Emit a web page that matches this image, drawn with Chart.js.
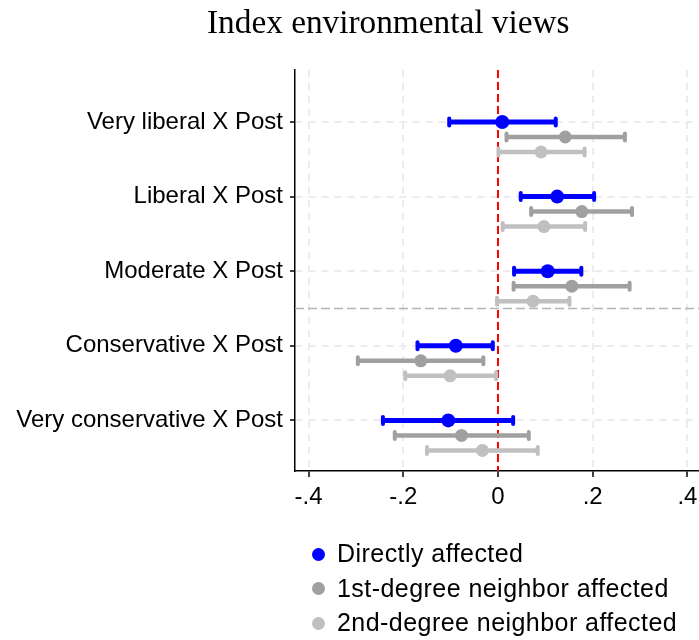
<!DOCTYPE html>
<html><head><meta charset="utf-8">
<script src="https://cdn.jsdelivr.net/npm/chart.js@4.4.0/dist/chart.umd.min.js"></script>
<style>
html,body{margin:0;padding:0;width:699px;height:640px;overflow:hidden;background:#fff;}
#wrap{position:relative;width:699px;height:640px;overflow:hidden;background:#fff;}
canvas{position:absolute;left:0;top:0;}
#title{position:absolute;left:207px;top:5px;font:33.3px/33px "Liberation Serif","Times New Roman",serif;color:#000;white-space:nowrap;}
.leg{position:absolute;left:337px;font:25px/25px "Liberation Sans",Arial,sans-serif;letter-spacing:0.45px;white-space:nowrap;color:#000;}
.dot{position:absolute;left:312px;width:13px;height:13px;border-radius:50%;}
</style></head>
<body><div id="wrap"><canvas id="c" width="720" height="640"></canvas>
<div id="title">Index environmental views</div>
<div id="legend"></div></div>
<script>
// ---------- data ----------
const categories = ["Very liberal X Post","Liberal X Post","Moderate X Post","Conservative X Post","Very conservative X Post"];
const seriesNames = ["Directly affected","1st-degree neighbor affected","2nd-degree neighbor affected"];
const directEst = [0.009, 0.125, 0.105, -0.089, -0.105];
const directLo  = [-0.103, 0.048, 0.034, -0.170, -0.243];
const directHi  = [0.122, 0.203, 0.176, -0.011, 0.032];
const firstEst  = [0.142, 0.177, 0.156, -0.163, -0.077];
const firstLo   = [0.018, 0.070, 0.033, -0.296, -0.218];
const firstHi   = [0.268, 0.283, 0.278, -0.031, 0.065];
const secondEst = [0.091, 0.097, 0.074, -0.101, -0.033];
const secondLo  = [0.001, 0.010, -0.002, -0.196, -0.150];
const secondHi  = [0.183, 0.184, 0.151, -0.004, 0.084];
const xTickValues = [-0.4, -0.2, 0, 0.2, 0.4];
const xTickLabels = ["-.4", "-.2", "0", ".2", ".4"];

// ---------- styling ----------
const colors = ["#0000ff", "#a0a0a0", "#c0c0c0"];
const rowOffsets = [0, 0.201, 0.402];
const barWidths = [5, 4.5, 4.5];
const pointRadii = [7, 6.5, 6.5];
const est = [directEst, firstEst, secondEst];
const los = [directLo, firstLo, secondLo];
const his = [directHi, firstHi, secondHi];
const SANS = '"Liberation Sans", Arial, sans-serif';

const errPlugin = {
  id: 'errbars',
  beforeDatasetsDraw(chart) {
    const {ctx, chartArea: a, scales: {x, y}} = chart;
    ctx.save();
    // separator between moderate and conservative
    ctx.setLineDash([9, 4]);
    ctx.strokeStyle = '#b4b4b4';
    ctx.lineWidth = 1.5;
    const ys = y.getPixelForValue(2.5);
    ctx.beginPath(); ctx.moveTo(a.left, ys); ctx.lineTo(a.right, ys); ctx.stroke();
    // zero reference line
    ctx.setLineDash([8, 4]);
    ctx.strokeStyle = '#ff0000';
    ctx.lineWidth = 2;
    const x0 = x.getPixelForValue(0);
    ctx.beginPath(); ctx.moveTo(x0, a.top); ctx.lineTo(x0, a.bottom); ctx.stroke();
    ctx.setLineDash([]);
    for (let k = 0; k < 3; k++) {
      ctx.strokeStyle = colors[k];
      for (let i = 0; i < categories.length; i++) {
        const py = y.getPixelForValue(i + rowOffsets[k]);
        const p1 = x.getPixelForValue(los[k][i]);
        const p2 = x.getPixelForValue(his[k][i]);
        ctx.lineCap = 'butt';
        ctx.lineWidth = barWidths[k];
        ctx.beginPath(); ctx.moveTo(p1, py); ctx.lineTo(p2, py); ctx.stroke();
        ctx.lineCap = 'round';
        ctx.lineWidth = 4;
        [p1, p2].forEach(p => {
          ctx.beginPath(); ctx.moveTo(p, py - 3.5); ctx.lineTo(p, py + 3.5); ctx.stroke();
        });
      }
    }
    ctx.restore();
  }
};

const datasets = seriesNames.map((name, k) => ({
  label: name,
  data: est[k].map((v, i) => ({x: v, y: i + rowOffsets[k]})),
  backgroundColor: colors[k],
  borderColor: colors[k],
  pointRadius: pointRadii[k],
  pointHoverRadius: pointRadii[k],
  borderWidth: 0,
  showLine: false
}));

new Chart(document.getElementById('c'), {
  type: 'scatter',
  data: {datasets},
  options: {
    responsive: false,
    animation: false,
    devicePixelRatio: 1,
    layout: {padding: {top: 70, left: 0, right: 18.4, bottom: 0}},
    plugins: {legend: {display: false}, title: {display: false}, tooltip: {enabled: false}},
    scales: {
      x: {
        type: 'linear',
        min: -0.4287, max: 0.43,
        afterBuildTicks: s => { s.ticks = xTickValues.map(v => ({value: v})); },
        afterFit: s => { s.height = 169; },
        ticks: {
          autoSkip: false, maxRotation: 0, padding: 6, color: '#000',
          font: {family: SANS, size: 24},
          callback: (v, i) => xTickLabels[i]
        },
        grid: {
          color: ctx => (ctx.tick && ctx.tick.value === 0) ? 'rgba(0,0,0,0)' : '#ececec',
          lineWidth: 2, tickColor: '#000', tickWidth: 1.5, tickLength: 6, drawTicks: true
        },
        border: {display: true, color: '#000', width: 1.5, dash: [7, 6]}
      },
      y: {
        type: 'linear',
        reverse: true,
        min: -0.697, max: 4.678,
        afterBuildTicks: s => { s.ticks = categories.map((c, i) => ({value: i})); },
        afterFit: s => { s.width = 295; },
        ticks: {
          autoSkip: false, padding: 7, color: '#000',
          font: {family: SANS, size: 24},
          callback: (v, i) => categories[i]
        },
        grid: {color: '#ececec', lineWidth: 2, tickColor: '#000', tickWidth: 1.5, tickLength: 5, drawTicks: true},
        border: {display: true, color: '#000', width: 1.5, dash: [7, 6]}
      }
    }
  },
  plugins: [errPlugin]
});

// legend
const leg = document.getElementById('legend');
const baseTop = 541, step = 34.5;
seriesNames.forEach((n, k) => {
  const d = document.createElement('div');
  d.className = 'dot';
  d.style.background = colors[k];
  d.style.top = (baseTop + 6.5 + k * step) + 'px';
  leg.appendChild(d);
  const t = document.createElement('div');
  t.className = 'leg';
  t.style.top = (baseTop + k * step) + 'px';
  t.textContent = n;
  leg.appendChild(t);
});
</script>
</body></html>
